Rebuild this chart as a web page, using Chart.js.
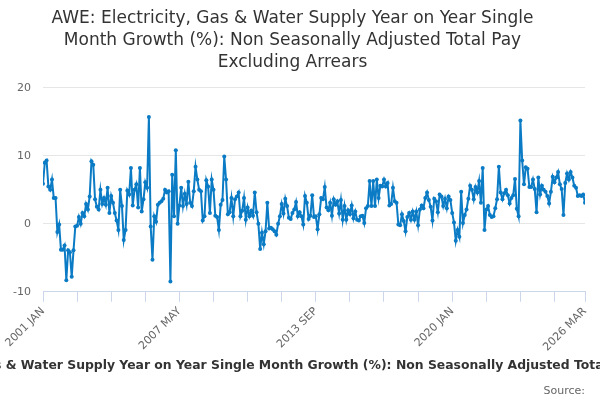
<!DOCTYPE html>
<html>
<head>
<meta charset="utf-8">
<script src="https://cdn.jsdelivr.net/npm/chart.js@4"></script>
<style>
  html, body { margin: 0; padding: 0; background: #fff; }
  #wrap { width: 600px; height: 400px; }
</style>
</head>
<body>
<div id="wrap"><canvas id="myChart"></canvas></div>
<script>
// monthly series, 2001 JAN .. 2026 MAR
var values = [
  5.9, 9.0, 9.3, 5.5, 5.0, 6.5, 3.8, 3.8, -1.2, -0.1,
  -3.8, -3.8, -3.2, -8.3, -3.9, -4.2, -7.8, -3.9, -0.4, -0.3,
  1.0, 0.0, 1.6, 1.1, 2.9, 2.1, 4.0, 9.2, 8.7, 3.6,
  2.5, 2.1, 5.0, 2.9, 3.8, 2.8, 5.3, 1.6, 4.1, 3.1,
  1.6, 0.5, -0.9, 5.0, 2.6, -2.4, -0.9, 4.9, 4.3, 8.2,
  2.7, 5.0, 5.8, 2.4, 8.2, 1.8, 3.6, 6.1, 5.3, 15.7,
  -0.4, -5.3, 1.1, 0.3, 2.8, 3.1, 3.3, 3.7, 5.0, 4.6,
  4.8, -8.5, 7.2, 1.1, 10.8, 0.0, 2.7, 5.3, 2.6, 4.4,
  2.9, 6.2, 3.1, 2.6, 4.8, 8.4, 6.5, 5.0, 4.8, 0.5,
  1.1, 6.4, 5.5, 1.6, 6.5, 5.0, 1.2, 1.0, -0.9, 2.8,
  3.5, 9.9, 6.5, 1.4, 1.7, 3.8, 1.1, 3.6, 4.0, 4.6,
  1.1, 1.9, 3.8, 0.6, 2.4, 1.1, 1.9, 1.2, 4.6, 1.7,
  0.0, -3.7, -1.3, -3.0, -1.1, 3.1, -0.7, -0.6, -0.8, -1.1,
  -1.6, 0.0, 1.1, 2.9, 1.5, 3.7, 2.6, 0.9, 0.7, 1.6,
  2.1, 3.2, 1.1, 1.7, 1.1, -0.1, 4.1, 3.1, 0.7, 1.2,
  4.2, 1.0, 1.1, -0.8, 1.4, 3.8, 3.6, 5.4, 2.4, 2.0,
  3.1, 1.2, 3.6, 2.8, 3.3, 1.5, 3.5, 0.6, 2.6, 0.6,
  2.0, 1.4, 2.7, 0.8, 1.8, 0.6, 0.5, 1.1, 1.2, 0.1,
  2.3, 2.6, 6.3, 2.6, 6.3, 2.6, 6.5, 3.8, 5.6, 5.5,
  6.5, 5.5, 6.0, 2.7, 2.9, 5.3, 3.3, 3.1, -0.1, -0.2,
  1.4, 0.4, -1.1, 1.0, 1.6, 0.6, 1.8, 0.6, 1.8, -0.2,
  2.1, 2.7, 2.3, 3.8, 4.6, 3.5, 2.5, 0.5, 3.7, 3.3,
  1.7, 4.3, 4.0, 2.6, 3.7, 2.3, 4.0, 3.5, 1.6, 0.2,
  -2.5, -0.9, -1.9, 4.7, 0.1, 1.3, 2.1, 3.7, 5.6, 5.0,
  3.6, 5.4, 4.6, 6.3, 3.1, 8.2, -0.9, 2.1, 2.6, 1.3,
  1.0, 1.1, 2.3, 3.6, 8.4, 4.6, 3.6, 4.5, 5.0, 4.2,
  3.0, 3.8, 4.2, 6.6, 2.2, 1.1, 15.2, 9.3, 5.8, 8.3,
  8.1, 5.4, 5.4, 6.5, 5.1, 1.7, 6.8, 4.3, 5.6, 5.0,
  4.7, 4.1, 3.0, 4.7, 6.9, 6.1, 6.8, 7.6, 5.8, 5.1,
  1.3, 6.0, 7.4, 6.5, 7.6, 6.8, 5.6, 5.3, 4.1, 4.2,
  4.1, 4.3, 3.1
]

var tickMarks = [0, 19, 38, 57, 76, 95, 114, 133, 152, 171, 190, 209, 228, 247, 266, 285, 302]
var labelIndex = [0, 76, 152, 228, 302]
var tickLabels = ['2001 JAN', '2007 MAY', '2013 SEP', '2020 JAN', '2026 MAR']

var titleLines = [
  'AWE: Electricity, Gas & Water Supply Year on Year Single',
  'Month Growth (%): Non Seasonally Adjusted Total Pay',
  'Excluding Arrears'
]
var axisTitle = 'AWE: Electricity, Gas & Water Supply Year on Year Single Month Growth (%): Non Seasonally Adjusted Total Pay Excluding Arrears'

var points = values.map(function(v, i) { return { x: i, y: v } })

Chart.defaults.font.family = '"DejaVu Sans", Verdana, sans-serif'
Chart.defaults.color = '#666'

// x axis title drawn by hand so it can run past the edges like the original
var axisTitlePlugin = {
  id: 'axisTitle',
  afterDraw: function(chart) {
    var c = chart.ctx
    var area = chart.chartArea
    c.save()
    c.font = 'bold 12.4px "DejaVu Sans", Verdana, sans-serif'
    c.fillStyle = '#333'
    c.textAlign = 'center'
    c.textBaseline = 'middle'
    c.fillText(axisTitle, (area.left + area.right) / 2 - 3, 366)
    c.restore()
  }
}

var ctx = document.getElementById('myChart').getContext('2d')
var chart = new Chart(ctx, {
  type: 'line',
  data: {
    datasets: [{
      data: points,
      borderColor: '#0a7bc4',
      backgroundColor: '#0a7bc4',
      borderWidth: 2,
      pointRadius: 2,
      pointBorderWidth: 0,
      tension: 0
    }]
  },
  plugins: [axisTitlePlugin],
  options: {
    responsive: true,
    maintainAspectRatio: false,
    animation: false,
    layout: { padding: { left: 0, right: 15, top: 0, bottom: 2 } },
    plugins: {
      legend: { display: false },
      tooltip: { enabled: false },
      title: {
        display: true,
        text: titleLines,
        color: '#333',
        font: { size: 17, weight: 'normal', lineHeight: 1.28 },
        padding: { top: 8, bottom: 14.5 }
      },
      subtitle: {
        display: true,
        text: 'Source:',
        position: 'bottom',
        align: 'end',
        color: '#666',
        font: { size: 11 },
        padding: { top: 4, bottom: 0 }
      }
    },
    scales: {
      x: {
        type: 'linear',
        min: 0,
        max: 302,
        afterBuildTicks: function(scale) {
          scale.ticks = tickMarks.map(function(v) { return { value: v } })
        },
        afterFit: function(scale) { scale.height = 89 },
        ticks: {
          autoSkip: false,
          maxRotation: 45,
          minRotation: 45,
          color: '#666',
          font: { size: 11 },
          callback: function(v) {
            var k = labelIndex.indexOf(v)
            return k < 0 ? '' : tickLabels[k]
          }
        },
        grid: { drawOnChartArea: false, color: '#ccd6eb', tickLength: 10 },
        border: { color: '#ccd6eb' }
      },
      y: {
        min: -10,
        max: 20,
        ticks: { stepSize: 10, color: '#666', font: { size: 11 }, padding: 12 },
        grid: { color: '#e6e6e6', drawTicks: false },
        border: { display: false },
        afterFit: function(scale) { scale.width = 43 }
      }
    }
  }
})
</script>
</body>
</html>
